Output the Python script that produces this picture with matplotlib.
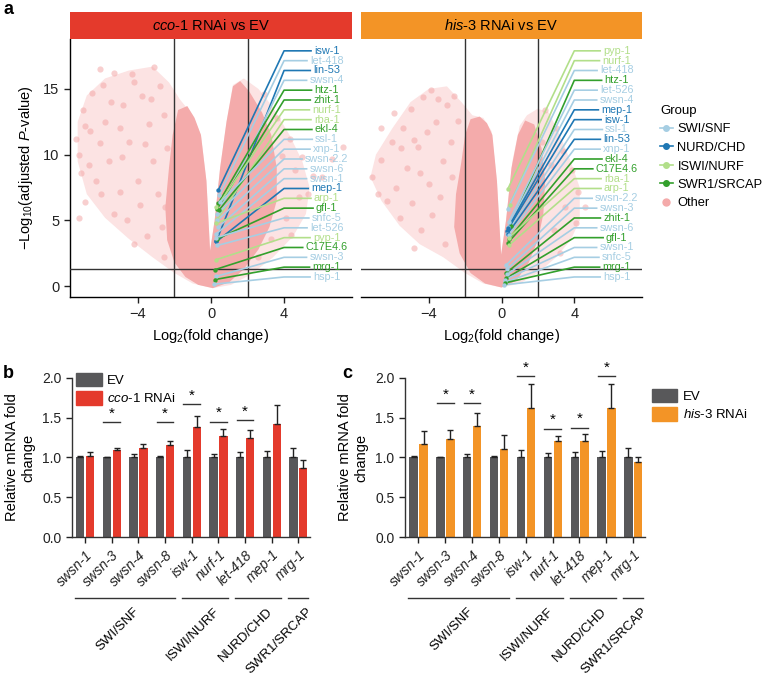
import numpy as np
import matplotlib
matplotlib.use('Agg')
import matplotlib.pyplot as plt
from matplotlib.lines import Line2D
from matplotlib.patches import Patch

plt.rcParams['font.family'] = ['Liberation Sans', 'DejaVu Sans']
plt.rcParams['mathtext.fontset'] = 'custom'
plt.rcParams['mathtext.rm'] = 'Liberation Sans'
plt.rcParams['mathtext.it'] = 'Liberation Sans:italic'
plt.rcParams['axes.linewidth'] = 1.0

RED = '#E43A2C'
ORANGE = '#F39426'
GREY = '#58585A'
group_colors = {'SWI/SNF': '#A6CEE3', 'NURD/CHD': '#1F78B4',
                'ISWI/NURF': '#B2DF8A', 'SWR1/SRCAP': '#33A02C'}

# ---- volcano a: cco-1 RNAi vs EV ----
# outline of the whole point cloud (log2FC, -log10 p)
cco_env_x = [0.1, -1.0, -2.0, -3.2, -4.5, -5.8, -6.8, -7.3, -7.3, -6.8, -5.8, -4.5, -3.2, -2.3, -1.7,
             -1.0, -0.55, -0.25, -0.05, 0.2, 0.5, 0.85, 1.2, 1.8, 2.6, 3.4, 4.3, 5.0, 5.4, 5.2, 4.5, 3.4, 2.2, 1.1]
cco_env_y = [-0.15, 0.2, 1.0, 2.2, 3.6, 5.2, 7.0, 9.5, 12.5, 14.5, 15.8, 16.4, 16.7, 15.5, 14.2,
             13.0, 11.5, 8.0, 2.7, 5.0, 9.0, 12.5, 15.3, 15.8, 15.0, 13.6, 11.5, 9.5, 7.5, 5.5, 3.8, 2.2, 0.9, 0.1]
# outline of the dense core
cco_core_x = [0.1, -0.7, -1.4, -2.0, -2.4, -2.5, -2.3, -2.1, -1.8, -1.3, -0.9, -0.55, -0.25, -0.05,
              0.2, 0.5, 0.85, 1.2, 1.6, 2.1, 2.8, 3.3, 3.6, 3.6, 3.2, 2.6, 1.8, 1.0]
cco_core_y = [-0.15, 0.1, 0.7, 1.8, 3.5, 6.0, 9.0, 11.5, 13.4, 13.7, 12.8, 11.5, 8.0, 2.7,
              5.0, 9.0, 12.5, 15.2, 15.6, 14.8, 13.2, 11.5, 9.0, 6.5, 4.5, 2.8, 1.3, 0.3]
# scattered outer points
cco_pts_x = [-6.1, -3.1, -5.3, -4.3, -7.0, -6.9, -7.1, -6.5, -6.1, -5.3, -3.5, -2.6, -5.8, -4.8, -3.8,
             -2.8, -6.6, -5.6, -4.5, -3.4, -2.6, -4.0, -5.0, -6.3, -3.2, -4.6, -3.9, -2.9, -2.7, -5.9,
             -4.2, -6.9, -3.6, -5.0, -6.0, -4.2, -7.2, -2.4, -7.4, -6.7, -5.5, -4.9, -3.3, -2.5, -7.2,
             2.9, 3.6, 4.3, 5.0, 5.6, 4.8, 4.1, 3.3, 2.6, 4.6, 3.9, 5.3, 3.2, 6.1, 4.4, 2.4, 7.2, 6.6]
cco_pts_y = [16.5, 16.7, 16.2, 16.1, 13.4, 6.4, 8.6, 14.7, 10.9, 5.5, 3.8, 2.2, 12.5, 13.8, 14.5,
             15.2, 11.8, 9.5, 11.0, 12.3, 13.0, 8.0, 7.2, 8.0, 9.5, 5.0, 6.2, 7.0, 4.5, 15.3,
             15.5, 12.2, 10.8, 12.0, 7.0, 3.2, 10.0, 10.5, 11.2, 9.2, 14.0, 9.8, 14.2, 6.0, 5.2,
             14.6, 12.8, 11.2, 9.8, 8.4, 6.8, 5.2, 3.6, 2.2, 8.8, 9.9, 7.0, 11.0, 8.3, 3.9, 13.5, 10.6, 9.7]
cco_genes = ['isw-1', 'let-418', 'lin-53', 'swsn-4', 'htz-1', 'zhit-1', 'nurf-1', 'rba-1', 'ekl-4',
             'ssl-1', 'xnp-1', 'swsn-2.2', 'swsn-6', 'swsn-1', 'mep-1', 'arp-1', 'gfl-1', 'snfc-5',
             'let-526', 'pyp-1', 'C17E4.6', 'swsn-3', 'mrg-1', 'hsp-1']
cco_groups = ['NURD/CHD', 'SWI/SNF', 'NURD/CHD', 'SWI/SNF', 'SWR1/SRCAP', 'SWR1/SRCAP', 'ISWI/NURF',
              'ISWI/NURF', 'SWR1/SRCAP', 'SWI/SNF', 'SWI/SNF', 'SWI/SNF', 'SWI/SNF', 'SWI/SNF',
              'NURD/CHD', 'ISWI/NURF', 'SWR1/SRCAP', 'SWI/SNF', 'SWI/SNF', 'ISWI/NURF', 'SWR1/SRCAP',
              'SWI/SNF', 'SWR1/SRCAP', 'SWI/SNF']
cco_lfc = [0.4, 0.45, 0.3, 0.45, 0.4, 0.35, 0.3, 0.35, 0.45, 0.5, 0.35, 0.35, 0.4, 0.3, 0.3, 0.3,
           0.35, 0.3, 0.35, 0.25, 0.2, 0.3, 0.2, 0.15]
cco_logp = [7.3, 6.9, 3.45, 5.7, 6.3, 5.9, 6.0, 5.1, 5.8, 6.4, 5.5, 5.0, 4.5, 4.0, 3.4, 4.8,
            3.6, 3.7, 3.1, 2.0, 1.25, 0.75, 0.5, 0.15]

# ---- volcano a: his-3 RNAi vs EV ----
his_env_x = [0.0, -1.0, -2.0, -3.2, -4.5, -5.6, -6.6, -7.2, -6.9, -6.0, -5.0, -4.0, -3.0, -2.2, -1.6,
             -1.0, -0.55, -0.25, -0.02, 0.25, 0.6, 1.0, 1.4, 2.0, 2.6, 3.2, 3.8, 4.3, 4.3, 3.8, 3.0, 2.0, 1.0]
his_env_y = [-0.1, 0.2, 1.0, 2.2, 3.2, 4.6, 6.5, 8.3, 10.0, 12.0, 14.0, 15.0, 15.2, 14.0, 13.0,
             12.8, 11.8, 8.0, 2.4, 5.0, 9.5, 12.2, 13.0, 13.5, 13.2, 11.5, 9.5, 7.5, 5.0, 3.5, 2.2, 1.0, 0.2]
his_core_x = [0.0, -0.9, -1.7, -2.3, -2.6, -2.5, -2.2, -2.0, -1.7, -1.2, -0.8, -0.5, -0.25, -0.02,
              0.25, 0.55, 0.9, 1.3, 1.8, 2.2, 2.4, 2.3, 2.0, 1.5, 0.8]
his_core_y = [-0.1, 0.2, 1.0, 2.5, 4.5, 7.0, 9.5, 11.5, 12.7, 12.9, 12.4, 11.5, 8.0, 2.4,
              5.0, 9.0, 11.5, 12.6, 12.3, 10.5, 8.0, 5.5, 3.5, 1.8, 0.4]
his_pts_x = [-3.9, -7.1, -5.0, -4.3, -6.0, -5.4, -6.6, -5.2, -4.6, -3.6, -3.0, -2.6, -5.8, -4.9, -4.0,
             -3.2, -3.8, -6.3, -4.4, -3.1, -5.6, -6.6, -4.1, -2.8, -5.9, -3.4, -2.7, -4.8, -6.8, -4.8, -5.5,
             -3.5, -4.5, -2.4,
             2.4, 3.0, 3.4, 3.9, 4.2, 3.5, 2.9, 4.1, 2.7, 3.2, 4.6, 2.2]
his_pts_y = [14.9, 8.3, 13.5, 14.4, 11.0, 12.0, 9.6, 9.0, 10.6, 12.5, 13.8, 14.5, 7.5, 6.3, 7.8,
             9.5, 5.4, 6.5, 4.3, 3.2, 5.2, 12.0, 11.7, 11.0, 13.2, 6.8, 8.3, 2.9, 7.0, 11.1, 10.5,
             14.2, 8.6, 12.6,
             13.4, 12.0, 10.3, 8.8, 7.2, 6.0, 4.3, 4.8, 9.2, 2.5, 6.0, 11.0]
his_genes = ['pyp-1', 'nurf-1', 'let-418', 'htz-1', 'let-526', 'swsn-4', 'mep-1', 'isw-1', 'ssl-1',
             'lin-53', 'xnp-1', 'ekl-4', 'C17E4.6', 'rba-1', 'arp-1', 'swsn-2.2', 'swsn-3', 'zhit-1',
             'swsn-6', 'gfl-1', 'swsn-1', 'snfc-5', 'mrg-1', 'hsp-1']
his_groups = ['ISWI/NURF', 'ISWI/NURF', 'SWI/SNF', 'SWR1/SRCAP', 'SWI/SNF', 'SWI/SNF', 'NURD/CHD',
              'NURD/CHD', 'SWI/SNF', 'NURD/CHD', 'SWI/SNF', 'SWR1/SRCAP', 'SWR1/SRCAP', 'ISWI/NURF',
              'ISWI/NURF', 'SWI/SNF', 'SWI/SNF', 'SWR1/SRCAP', 'SWI/SNF', 'SWR1/SRCAP', 'SWI/SNF',
              'SWI/SNF', 'SWR1/SRCAP', 'SWI/SNF']
his_lfc = [0.35, 0.45, 0.35, 0.5, 0.4, 0.35, 0.35, 0.3, 0.3, 0.35, 0.4, 0.4, 0.35, 0.4, 0.4,
           0.25, 0.3, 0.25, 0.3, 0.25, 0.2, 0.2, 0.2, 0.15]
his_logp = [7.4, 6.2, 5.9, 4.6, 4.9, 4.5, 4.4, 4.2, 4.0, 4.0, 3.9, 3.6, 3.3, 3.7, 3.1,
            1.6, 1.3, 1.0, 0.9, 0.6, 0.5, 0.3, 0.25, 0.1]

# ---- qPCR b / c ----
qpcr_genes = ['swsn-1', 'swsn-3', 'swsn-4', 'swsn-8', 'isw-1', 'nurf-1', 'let-418', 'mep-1', 'mrg-1']
ev_mean = [1.0, 1.0, 1.0, 1.0, 1.0, 1.0, 1.0, 1.0, 1.0]
ev_err_b = [0.025, 0.01, 0.045, 0.02, 0.10, 0.05, 0.065, 0.08, 0.125]
cco_mean = [1.025, 1.095, 1.12, 1.155, 1.385, 1.275, 1.24, 1.42, 0.865]
cco_err = [0.04, 0.03, 0.05, 0.05, 0.14, 0.08, 0.10, 0.24, 0.10]
ev_err_c = [0.025, 0.012, 0.045, 0.025, 0.10, 0.055, 0.065, 0.08, 0.125]
his_mean = [1.17, 1.23, 1.39, 1.11, 1.62, 1.21, 1.21, 1.62, 0.94]
his_err = [0.165, 0.115, 0.17, 0.17, 0.30, 0.06, 0.08, 0.295, 0.07]
sig_b = {'swsn-3': 1.44, 'swsn-8': 1.44, 'isw-1': 1.67, 'nurf-1': 1.45, 'let-418': 1.47}
sig_c = {'swsn-3': 1.68, 'swsn-4': 1.68, 'isw-1': 2.02, 'nurf-1': 1.36, 'let-418': 1.375, 'mep-1': 2.02}
complex_names = ['SWI/SNF', 'ISWI/NURF', 'NURD/CHD', 'SWR1/SRCAP']
complex_members = [['swsn-1', 'swsn-3', 'swsn-4', 'swsn-8'], ['isw-1', 'nurf-1'],
                   ['let-418', 'mep-1'], ['mrg-1']]

W, H = 765, 679
fig = plt.figure(figsize=(W / 100, H / 100), dpi=100)


def fax(l, t, r, b):
    return fig.add_axes([l / W, 1 - b / H, (r - l) / W, (b - t) / H])


def volcano(ax, sax, title, scol, env_x, env_y, core_x, core_y, px, py,
            genes, groups, lfc, logp, show_y):
    ax.fill(env_x, env_y, color='#FCE3E3', lw=0, zorder=1)
    ax.scatter(px, py, s=20, color='#F3A8A8', alpha=0.55, lw=0, zorder=2)
    ax.fill(core_x, core_y, color='#F4ABAB', lw=0, zorder=2)
    ax.axhline(-np.log10(0.05), color='#333333', lw=1, zorder=3)
    ax.axvline(-2, color='#333333', lw=1, zorder=3)
    ax.axvline(2, color='#333333', lw=1, zorder=3)
    ax.set_xlim(-7.72, 7.72)
    ax.set_ylim(-0.8, 18.8)
    ax.set_xticks([-4, 0, 4])
    ax.set_xticklabels(['\u22124', '0', '4'])
    ax.set_yticks([0, 5, 10, 15])
    ax.tick_params(direction='out', length=4, width=1, labelsize=10.5, colors='#222222')
    for s in ('top', 'right'):
        ax.spines[s].set_visible(False)
    if not show_y:
        ax.spines['left'].set_visible(False)
        ax.tick_params(axis='y', left=False, labelleft=False)
    else:
        ax.set_ylabel('\u2212Log$_{10}$(adjusted $P$-value)', fontsize=10.5, labelpad=6)
    ax.set_xlabel('Log$_2$(fold change)', fontsize=10.5, labelpad=4)

    label_y = np.linspace(17.9, 0.7, len(genes))
    texts = []
    for g, grp, ly in zip(genes, groups, label_y):
        texts.append(ax.text(6.33, ly, g, color=group_colors[grp], ha='center', va='center',
                             fontsize=7.8, zorder=6))
    fig.canvas.draw()
    r = fig.canvas.get_renderer()
    inv = ax.transData.inverted()
    for t, grp, x, y, ly in zip(texts, groups, lfc, logp, label_y):
        c = group_colors[grp]
        bb = t.get_window_extent(r)
        x_end = inv.transform((bb.x0 - 2, 0))[0]
        ax.plot([x, 4.0, x_end], [y, ly, ly], color=c, lw=1.2, zorder=4, solid_capstyle='butt')
        ax.scatter([x], [y], s=10, color=c, lw=0, zorder=5)

    sax.set_facecolor(scol)
    sax.set_xticks([])
    sax.set_yticks([])
    for s in sax.spines.values():
        s.set_visible(False)
    sax.text(0.5, 0.5, title, ha='center', va='center', fontsize=10.5, transform=sax.transAxes)


def qpcr(ax, means, errs, ev_errs, col, sig):
    x = np.arange(len(qpcr_genes))
    ax.bar(x - 0.18, ev_mean, width=0.31, color=GREY, zorder=2)
    ax.bar(x + 0.19, means, width=0.31, color=col, zorder=2)
    ax.errorbar(x - 0.18, ev_mean, yerr=[np.zeros(len(x)), ev_errs], fmt='none',
                ecolor='#222222', elinewidth=1, capsize=2.2, capthick=1, zorder=3)
    ax.errorbar(x + 0.19, means, yerr=[np.zeros(len(x)), errs], fmt='none',
                ecolor='#222222', elinewidth=1, capsize=2.2, capthick=1, zorder=3)
    for g, yv in sig.items():
        i = qpcr_genes.index(g)
        ax.plot([i - 0.31, i + 0.31], [yv, yv], color='#333333', lw=1, clip_on=False)
        ax.text(i, yv + 0.02, '*', ha='center', va='bottom', fontsize=11)
    ax.set_xlim(-0.5, 8.44)
    ax.set_ylim(0, 2.0)
    ax.set_yticks([0, 0.5, 1.0, 1.5, 2.0])
    ax.set_yticklabels(['0.0', '0.5', '1.0', '1.5', '2.0'])
    ax.set_xticks(x)
    ax.set_xticklabels(qpcr_genes, rotation=45, ha='right', rotation_mode='anchor',
                       fontstyle='italic', fontsize=10)
    ax.tick_params(direction='out', length=4, width=1, labelsize=10, colors='#222222')
    for s in ('top', 'right'):
        ax.spines[s].set_visible(False)
    ax.spines['left'].set_color('#333333')
    ax.spines['bottom'].set_color('#333333')
    ax.set_ylabel('Relative mRNA fold\nchange', fontsize=10.5, labelpad=5)
    tr = ax.get_xaxis_transform()
    for name, members in zip(complex_names, complex_members):
        i0 = qpcr_genes.index(members[0])
        i1 = qpcr_genes.index(members[-1])
        ax.plot([i0 - 0.37, i1 + 0.37], [-0.38, -0.38], color='#333333', lw=1,
                transform=tr, clip_on=False)
        ax.text((i0 + i1) / 2 + 0.3, -0.43, name, rotation=45, ha='right', va='top',
                rotation_mode='anchor', fontsize=9.5, transform=tr)


ax1 = fax(70, 39, 352, 296.7)
s1 = fax(70, 11.7, 352, 39)
ax2 = fax(361, 39, 642, 296.7)
s2 = fax(361, 11.7, 642, 39)
volcano(ax1, s1, '$\\mathit{cco}$-$\\mathit{1}$ RNAi vs EV', RED, cco_env_x, cco_env_y,
        cco_core_x, cco_core_y, cco_pts_x, cco_pts_y, cco_genes, cco_groups, cco_lfc, cco_logp, True)
volcano(ax2, s2, '$\\mathit{his}$-$\\mathit{3}$ RNAi vs EV', ORANGE, his_env_x, his_env_y,
        his_core_x, his_core_y, his_pts_x, his_pts_y, his_genes, his_groups, his_lfc, his_logp, False)

handles = [Line2D([], [], color=group_colors[k], marker='o', markersize=4, lw=1.2)
           for k in ['SWI/SNF', 'NURD/CHD', 'ISWI/NURF', 'SWR1/SRCAP']]
handles.append(Line2D([], [], color='#F4AAAA', marker='o', markersize=5, lw=0))
leg = fig.legend(handles, ['SWI/SNF', 'NURD/CHD', 'ISWI/NURF', 'SWR1/SRCAP', 'Other'],
                 title='Group', loc='upper left', bbox_to_anchor=(660 / W, 1 - 105 / H),
                 frameon=False, fontsize=9.3, title_fontsize=9.5, handlelength=1.0,
                 handletextpad=0.35, labelspacing=0.5, borderpad=0, borderaxespad=0)
leg._legend_box.align = 'left'

axb = fax(71.7, 377.7, 310, 537.3)
axc = fax(405, 377.7, 645, 537.3)
qpcr(axb, cco_mean, cco_err, ev_err_b, RED, sig_b)
qpcr(axc, his_mean, his_err, ev_err_c, ORANGE, sig_c)

axb.legend([Patch(color=GREY), Patch(color=RED)], ['EV', '$\\mathit{cco}$-$\\mathit{1}$ RNAi'],
           loc='upper left', bbox_to_anchor=(0.02, 1.03), frameon=False, fontsize=9.5,
           handlelength=1.9, handleheight=1.2, handletextpad=0.4, labelspacing=0.3,
           borderpad=0, borderaxespad=0)
axc.legend([Patch(color=GREY), Patch(color=ORANGE)], ['EV', '$\\mathit{his}$-$\\mathit{3}$ RNAi'],
           loc='upper left', bbox_to_anchor=(1.03, 0.93), frameon=False, fontsize=9.5,
           handlelength=1.9, handleheight=1.2, handletextpad=0.4, labelspacing=0.3,
           borderpad=0, borderaxespad=0)

fig.text(4 / W, 1 - 9 / H, 'a', fontsize=13, fontweight='bold', va='center')
fig.text(3 / W, 1 - 374 / H, 'b', fontsize=13, fontweight='bold', va='center')
fig.text(342 / W, 1 - 374 / H, 'c', fontsize=13, fontweight='bold', va='center')

fig.savefig('out.png', dpi=100)
